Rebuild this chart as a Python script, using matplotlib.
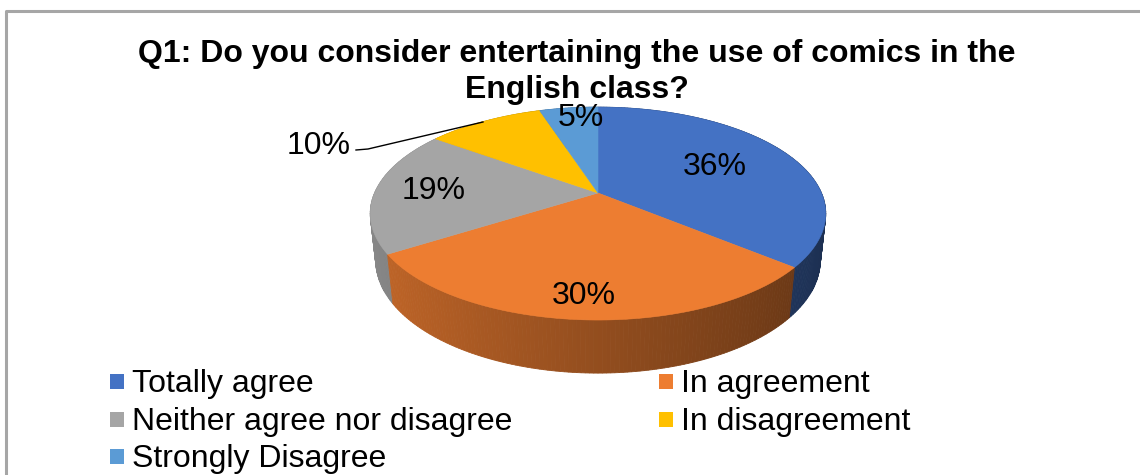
import numpy as np
import matplotlib
matplotlib.use("Agg")
import matplotlib.pyplot as plt
from matplotlib.patches import Polygon, Rectangle
from matplotlib.lines import Line2D

# Survey answers for question 1
categories = ["Totally agree", "In agreement", "Neither agree nor disagree",
              "In disagreement", "Strongly Disagree"]
percentages = [36, 30, 19, 10, 5]
colors = ["#4472C4", "#ED7D31", "#A5A5A5", "#FFC000", "#5B9BD5"]
title_lines = ["Q1: Do you consider entertaining the use of comics in the",
               "English class?"]

plt.rcParams["font.family"] = ["Liberation Sans", "DejaVu Sans"]

W, H = 1140, 475
fig = plt.figure(figsize=(W / 100, H / 100), dpi=100)
ax = fig.add_axes([0, 0, 1, 1])
ax.set_xlim(0, W)
ax.set_ylim(H, 0)
ax.axis("off")

# chart frame (left and top edges visible)
ax.add_line(Line2D([6, 6, W + 5], [H + 5, 11, 11], color="#A6A6A6", lw=2.2))

# ---- 3D pie projection ---------------------------------------------------
elev = np.radians(27.3)
dist = 4.60
scale = 1028.0
cx, cy = 598.0, 193.0
thick = 0.237
ce, se = np.cos(elev), np.sin(elev)


def project(X, Y, Z):
    """Perspective projection of a world point (Y up, Z toward viewer)."""
    X, Y, Z = np.asarray(X, float), np.asarray(Y, float), np.asarray(Z, float)
    depth = dist - Y * se - Z * ce
    up = Y * ce - Z * se
    return cx + scale * X / depth, cy - scale * up / depth, depth


def rim(theta):
    # clockwise from 12 o'clock as seen from above
    return np.sin(theta), -np.cos(theta)


def shade(rgb, X):
    f = 0.62 - 0.21 * X
    return tuple(np.clip(np.array(rgb) * f, 0, 1))


fracs = np.array(percentages, float) / sum(percentages)
bounds = np.concatenate([[0], np.cumsum(fracs)]) * 2 * np.pi

# outer side wall strips, drawn far to near
strips = []
for i, c in enumerate(colors):
    rgb = matplotlib.colors.to_rgb(c)
    n = max(int(fracs[i] * 400), 4)
    ts = np.linspace(bounds[i], bounds[i + 1], n + 1)
    for a, b in zip(ts[:-1], ts[1:]):
        xa, za = rim(a)
        xb, zb = rim(b)
        p1 = project(xa, 0, za)
        p2 = project(xb, 0, zb)
        p3 = project(xb, -thick, zb)
        p4 = project(xa, -thick, za)
        depth = (p1[2] + p2[2]) / 2
        col = shade(rgb, (xa + xb) / 2)
        strips.append((depth, [(p1[0], p1[1]), (p2[0], p2[1]),
                               (p3[0], p3[1]), (p4[0], p4[1])], col))
strips.sort(key=lambda s: -s[0])
for _, pts, col in strips:
    ax.add_patch(Polygon(pts, closed=True, facecolor=col, edgecolor=col,
                         lw=0.6, antialiased=True))

# top faces
for i, c in enumerate(colors):
    n = max(int(fracs[i] * 400), 4)
    ts = np.linspace(bounds[i], bounds[i + 1], n + 1)
    X, Z = rim(ts)
    px, py, _ = project(X, np.zeros_like(X), Z)
    ox, oy, _ = project(0, 0, 0)
    pts = [(float(ox), float(oy))] + list(zip(px, py))
    ax.add_patch(Polygon(pts, closed=True, facecolor=c, edgecolor=c, lw=0.4))

# data labels (radial position of each label, angular nudge in degrees)
label_r = [0.62, 0.83, 0.74, None, 0.88]
label_da = [-2, 0, 1, 0, 3]
lab_fs = 23
cap = 0.716 * lab_fs * 100 / 72
for i, p in enumerate(percentages):
    if label_r[i] is None:
        continue
    mid = (bounds[i] + bounds[i + 1]) / 2 + np.radians(label_da[i])
    X, Z = rim(mid)
    lx, ly, _ = project(X * label_r[i], 0, Z * label_r[i])
    ax.text(float(lx), float(ly) + cap / 2 - 2, f"{p}%", fontsize=lab_fs,
            ha="center", va="baseline", color="black")

# outside label with leader line for the small yellow slice
ax.text(351, 143 + cap / 2, f"{percentages[3]}%", fontsize=lab_fs, ha="right",
        va="baseline", color="black")
ax.add_line(Line2D([356, 368, 483], [150, 149, 122], color="black", lw=1.0))

# title
for line, base in zip(title_lines, [62, 98]):
    ax.text(577, base, line, fontsize=23, fontweight="bold", ha="center",
            va="baseline")

# legend (two columns)
leg_fs = 23
col_x = [110, 659]
row_base = [392, 430, 467]
for i, (name, c) in enumerate(zip(categories, colors)):
    r, k = divmod(i, 2)
    x0, yb = col_x[k], row_base[r]
    ax.add_patch(Rectangle((x0, yb - 18), 14, 15, facecolor=c, edgecolor="none"))
    ax.text(x0 + 22, yb, name, fontsize=leg_fs, ha="left",
            va="baseline", color="black")

fig.savefig("out.png", dpi=100, facecolor="white")
